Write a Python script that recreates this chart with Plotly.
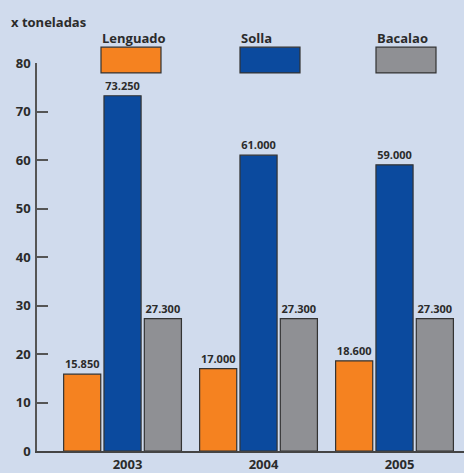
import plotly.graph_objects as go

years = ["2003", "2004", "2005"]
series_names = ["Lenguado", "Solla", "Bacalao"]
lenguado = [15.85, 17.0, 18.6]
solla = [73.25, 61.0, 59.0]
bacalao = [27.3, 27.3, 27.3]
y_ticks = [0, 10, 20, 30, 40, 50, 60, 70, 80]
y_unit_label = "x toneladas"

series_values = [lenguado, solla, bacalao]
colors = ["#F58220", "#0B4A9E", "#8F9094"]

W, H = 464, 473
ML, MR, MT, MB = 37, 0, 63, 18
PW = W - ML - MR
PH = H - MT - MB

FONT = "Open Sans"
TXT = "#2b2b2b"


def px_x(p):
    return (p - ML) / PW


def px_y(p):
    return (H - MB - p) / PH


fig = go.Figure()
for name, vals, col in zip(series_names, series_values, colors):
    fig.add_trace(go.Bar(
        name=name,
        x=years,
        y=vals,
        marker=dict(color=col, line=dict(color="#333333", width=1.2)),
        text=[f"{v:.3f}" for v in vals],
        textposition="outside",
        textfont=dict(family=FONT, size=11, color=TXT, weight="bold"),
        cliponaxis=False,
        showlegend=False,
        hoverinfo="skip",
    ))

# custom legend: big swatches with labels above
legend_boxes = [(101, 161), (240, 300), (376, 436)]
shapes = []
annotations = []
for (x0, x1), name, col in zip(legend_boxes, series_names, colors):
    shapes.append(dict(
        type="rect", xref="paper", yref="paper",
        x0=px_x(x0), x1=px_x(x1), y0=px_y(73), y1=px_y(47),
        fillcolor=col, line=dict(color="#333333", width=1.2),
    ))
    annotations.append(dict(
        xref="paper", yref="paper", x=px_x(x0 - 1), y=px_y(38),
        xanchor="left", yanchor="middle", text=name, showarrow=False,
        font=dict(family=FONT, size=13, color=TXT, weight="bold"),
    ))

annotations.append(dict(
    xref="paper", yref="paper", x=px_x(9), y=px_y(22),
    xanchor="left", yanchor="middle", text=y_unit_label, showarrow=False,
    font=dict(family=FONT, size=13, color=TXT, weight="bold"),
))

fig.update_layout(
    width=W, height=H,
    margin=dict(l=ML, r=MR, t=MT, b=MB, pad=0),
    paper_bgcolor="#D0DBED",
    plot_bgcolor="rgba(0,0,0,0)",
    barmode="group",
    bargap=0.11,
    bargroupgap=0.08,
    shapes=shapes,
    annotations=annotations,
    font=dict(family=FONT, color=TXT),
)

fig.update_xaxes(
    type="category",
    range=[-0.629, 2.511],
    showgrid=False,
    showline=True, linecolor="#444444", linewidth=1.5,
    ticks="",
    tickfont=dict(family=FONT, size=13, color=TXT, weight="bold"),
    ticklabelshift=5,
    ticklabelstandoff=1,
)

fig.update_yaxes(
    range=[0, 80],
    tickvals=y_ticks,
    showgrid=False,
    zeroline=False,
    showline=True, linecolor="#555555", linewidth=1.5,
    ticks="inside", ticklen=11, tickcolor="#555555", tickwidth=1.5,
    tickfont=dict(family=FONT, size=13, color=TXT, weight="bold"),
    ticklabelstandoff=2,
)

fig.write_html(
    "out.html",
    config={"displayModeBar": False},
    post_script="document.body.style.margin='0';document.body.style.overflow='hidden';",
)
